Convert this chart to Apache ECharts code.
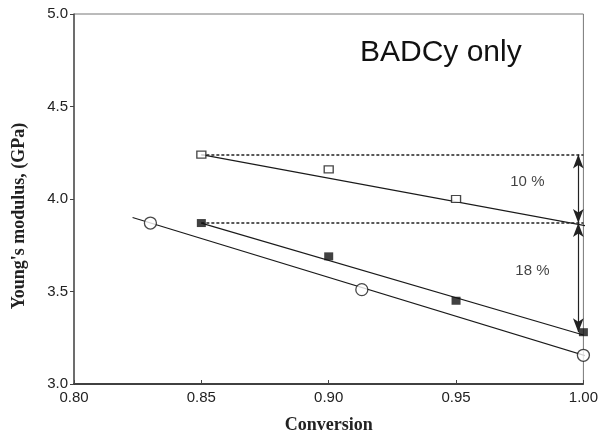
<!DOCTYPE html>
<html>
<head>
<meta charset="utf-8">
<script src="https://cdn.jsdelivr.net/npm/echarts@6/dist/echarts.min.js"></script>
<style>
  html, body { margin: 0; padding: 0; background: #fff; }
  #chart { width: 601px; height: 439px; }
</style>
</head>
<body>
<div id="chart"></div>
<script>
// measured points
var openX = [0.85, 0.90, 0.95];
var openY = [4.24, 4.16, 4.00];
var filledX = [0.85, 0.90, 0.95, 1.00];
var filledY = [3.87, 3.69, 3.45, 3.28];
var circleX = [0.83, 0.913, 1.00];
var circleY = [3.87, 3.51, 3.155];

// fitted lines (two end points each)
var openFitX = [0.85, 1.005];
var openFitY = [4.24, 3.845];
var filledFitX = [0.85, 1.00];
var filledFitY = [3.87, 3.265];
var circleFitX = [0.823, 1.005];
var circleFitY = [3.90, 3.135];

// dotted reference levels
var refLevels = [4.24, 3.87];
var refFrom = 0.85, refTo = 1.00;

// double arrows
var arrowX = 0.998;
var arrowSpans = [[4.24, 3.87], [3.87, 3.28]];
var noteX = [0.978, 0.98];
var noteY = [4.094, 3.61];
var noteText = ['10 %', '18 %'];

var xTicks = [0.80, 0.85, 0.90, 0.95, 1.00];
var yTicks = [3.0, 3.5, 4.0, 4.5, 5.0];

function pairs(xs, ys) {
  return xs.map(function (x, i) { return [x, ys[i]]; });
}

var chart = echarts.init(document.getElementById('chart'));
var ink = '#1a1a1a';

var option = {
  animation: false,
  title: {
    text: 'BADCy only',
    left: 355, top: 33,
    textStyle: { fontFamily: 'Liberation Sans, Arial', fontSize: 30, fontWeight: 'normal', color: '#111' }
  },
  graphic: [{
    type: 'text', x: 19, y: 216, rotation: Math.PI / 2,
    style: {
      text: "Young's modulus, (GPa)", textAlign: 'center', textVerticalAlign: 'middle',
      font: 'bold 18px "Liberation Serif", "Times New Roman"', fill: '#222'
    }
  }],
  grid: {
    left: 74, top: 14, width: 510, height: 371,
    show: true, borderColor: '#777', borderWidth: 1
  },
  xAxis: {
    type: 'value', min: xTicks[0], max: xTicks[xTicks.length - 1], interval: 0.05,
    name: 'Conversion', nameLocation: 'middle', nameGap: 32,
    nameTextStyle: { fontFamily: 'Liberation Serif, Times New Roman', fontWeight: 'bold', fontSize: 18, color: '#222' },
    axisLine: { lineStyle: { color: ink, width: 1.5 } },
    axisTick: { inside: true, length: 4, lineStyle: { color: '#444' } },
    axisLabel: {
      fontFamily: 'Liberation Sans, Arial', fontSize: 15, color: '#222', margin: 6,
      formatter: function (v) { return v.toFixed(2); }
    },
    splitLine: { show: false }
  },
  yAxis: {
    type: 'value', min: yTicks[0], max: yTicks[yTicks.length - 1], interval: 0.5,
    axisLine: { lineStyle: { color: '#555', width: 1.5 } },
    axisTick: { length: 4, lineStyle: { color: '#444' } },
    axisLabel: {
      fontFamily: 'Liberation Sans, Arial', fontSize: 15, color: '#222', margin: 6,
      formatter: function (v) { return v.toFixed(1); }
    },
    splitLine: { show: false }
  },
  series: [
    {
      type: 'line', data: pairs(openFitX, openFitY), symbol: 'none', clip: false,
      lineStyle: { color: ink, width: 1.2 }, z: 2
    },
    {
      type: 'line', data: pairs(filledFitX, filledFitY), symbol: 'none', clip: false,
      lineStyle: { color: ink, width: 1.2 }, z: 2
    },
    {
      type: 'line', data: pairs(circleFitX, circleFitY), symbol: 'none', clip: false,
      lineStyle: { color: ink, width: 1.2 }, z: 2
    },
    {
      // dotted levels
      type: 'line', data: [], symbol: 'none',
      markLine: {
        silent: true, symbol: 'none', label: { show: false },
        lineStyle: { color: '#222', type: [3, 2], width: 1.5 },
        data: refLevels.map(function (y) {
          return [{ coord: [refFrom, y] }, { coord: [refTo, y] }];
        })
      }
    },
    {
      // double arrows
      type: 'line', data: [], symbol: 'none',
      markLine: {
        silent: true, symbol: ['arrow', 'arrow'], symbolSize: [8, 14], label: { show: false },
        lineStyle: { color: '#222', type: 'solid', width: 1.2 },
        data: arrowSpans.map(function (s) {
          return [{ coord: [arrowX, s[0]] }, { coord: [arrowX, s[1]] }];
        })
      }
    },
    {
      type: 'scatter', data: pairs(openX, openY), symbol: 'rect', symbolSize: [9, 7],
      itemStyle: { color: '#fff', borderColor: ink, borderWidth: 1.2 }, z: 5
    },
    {
      type: 'scatter', data: pairs(filledX, filledY), symbol: 'rect', symbolSize: [9, 8],
      itemStyle: { color: '#111' }, z: 5
    },
    {
      type: 'scatter', data: pairs(circleX, circleY), symbol: 'circle', symbolSize: 12,
      itemStyle: { color: '#fff', borderColor: ink, borderWidth: 1.3 }, z: 5
    },
    {
      type: 'scatter', data: pairs(noteX, noteY), symbolSize: 0, silent: true,
      label: {
        show: true, position: 'inside', color: '#111',
        fontFamily: 'Liberation Sans, Arial', fontSize: 15,
        formatter: function (p) { return noteText[p.dataIndex]; }
      }
    }
  ]
};

chart.setOption(option);
</script>
</body>
</html>
